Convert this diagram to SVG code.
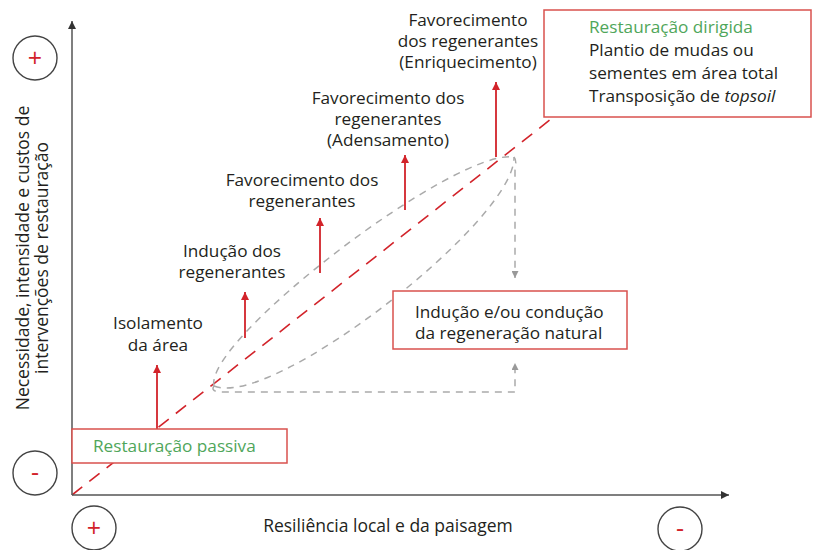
<svg xmlns="http://www.w3.org/2000/svg" width="813" height="550" viewBox="0 0 813 550">
<style>
text{font-family:"Open Sans","Noto Sans","Liberation Sans",sans-serif;font-size:17.2px;fill:#231f20}
.c{text-anchor:middle}
.g{fill:#4fa65a}
.ax{font-size:17.5px}
.sign{fill:#d2232a;font-size:25px;text-anchor:middle}
.circ{fill:#fff;stroke:#444;stroke-width:1.4}
.box{fill:#fff;stroke:#d9514e;stroke-width:1.5}
.axis{stroke:#555;stroke-width:1.5;fill:none}
.red{stroke:#d2232a;stroke-width:1.8;fill:none}
.diag{stroke:#d2232a;stroke-width:1.6;fill:none;stroke-dasharray:13 9}
.gd{stroke:#aaa;stroke-width:1.5;fill:none;stroke-dasharray:7 6}
</style>
<defs>
<marker id="ah" viewBox="0 0 10 10" refX="10" refY="5" markerWidth="10" markerHeight="8" markerUnits="userSpaceOnUse" orient="auto"><path d="M0,0 L10,5 L0,10 Z" fill="#333"/></marker>
<marker id="rh" viewBox="0 0 10 10" refX="10" refY="5" markerWidth="13" markerHeight="8" markerUnits="userSpaceOnUse" orient="auto"><path d="M0,0 L10,5 L0,10 Z" fill="#d2232a"/></marker>
<marker id="gh" viewBox="0 0 10 10" refX="10" refY="5" markerWidth="9" markerHeight="7" markerUnits="userSpaceOnUse" orient="auto"><path d="M0,0 L10,5 L0,10 Z" fill="#999"/></marker>
</defs>
<g id="connectors">
<line class="diag" x1="72" y1="495" x2="560" y2="112"/>
<path class="gd" d="M214,386 C204,340 455,148 514,157"/>
<path class="gd" d="M214,386 C272,410 516,220 514,157"/>
<path class="gd" d="M214,386 Q210,392 222,392 L515,392 L515,363" marker-end="url(#gh)"/>
<path class="gd" d="M514,157 Q517,160 515,170 L515,278" marker-end="url(#gh)"/>
<line class="red" x1="157" y1="429" x2="157" y2="365" marker-end="url(#rh)"/>
<line class="red" x1="245" y1="338" x2="245" y2="292" marker-end="url(#rh)"/>
<line class="red" x1="320" y1="273" x2="320" y2="218" marker-end="url(#rh)"/>
<line class="red" x1="405" y1="210" x2="405" y2="155" marker-end="url(#rh)"/>
<line class="red" x1="496" y1="157" x2="496" y2="82" marker-end="url(#rh)"/>
<line class="axis" x1="72" y1="495" x2="72" y2="21" marker-end="url(#ah)"/>
<line class="axis" x1="72" y1="495" x2="729" y2="495" marker-end="url(#ah)"/>
</g>
<g id="axis-labels">
<text class="c ax" x="388" y="532">Resiliência local e da paisagem</text>
<text class="c ax" transform="translate(29,258) rotate(-90)">Necessidade, intensidade e custos de</text>
<text class="c ax" transform="translate(48,258) rotate(-90)">intervenções de restauração</text>
</g>
<g id="sign-plus-top"><circle class="circ" cx="35" cy="58" r="22"/><text class="sign" x="35" y="67">+</text></g>
<g id="sign-minus-left"><circle class="circ" cx="35" cy="473" r="22"/><text class="sign" x="35" y="481">-</text></g>
<g id="sign-plus-bottom"><circle class="circ" cx="94" cy="528" r="22"/><text class="sign" x="94" y="537">+</text></g>
<g id="sign-minus-right"><circle class="circ" cx="680" cy="529" r="22"/><text class="sign" x="680" y="537">-</text></g>
<g id="restauracao-passiva">
<rect class="box" x="72" y="429" width="215" height="34"/>
<text class="g" x="93" y="452">Restauração passiva</text>
</g>
<g id="restauracao-dirigida">
<rect class="box" x="544" y="10" width="267" height="107"/>
<text class="g" x="589" y="33">Restauração dirigida</text>
<text x="589" y="56">Plantio de mudas ou</text>
<text x="589" y="79">sementes em área total</text>
<text x="589" y="102">Transposição de <tspan font-style="italic">topsoil</tspan></text>
</g>
<g id="inducao-conducao">
<rect class="box" x="393" y="291" width="234" height="58"/>
<text x="415" y="318">Indução e/ou condução</text>
<text x="415" y="339">da regeneração natural</text>
</g>
<g id="isolamento">
<text class="c" x="158" y="329">Isolamento</text>
<text class="c" x="158" y="351">da área</text>
</g>
<g id="inducao-regenerantes">
<text class="c" x="232" y="257">Indução dos</text>
<text class="c" x="232" y="278">regenerantes</text>
</g>
<g id="favorecimento">
<text class="c" x="302" y="186">Favorecimento dos</text>
<text class="c" x="302" y="207">regenerantes</text>
</g>
<g id="favorecimento-adensamento">
<text class="c" x="388" y="104">Favorecimento dos</text>
<text class="c" x="388" y="125">regenerantes</text>
<text class="c" x="388" y="146">(Adensamento)</text>
</g>
<g id="favorecimento-enriquecimento">
<text class="c" x="468" y="26">Favorecimento</text>
<text class="c" x="468" y="47">dos regenerantes</text>
<text class="c" x="468" y="68">(Enriquecimento)</text>
</g>
</svg>
